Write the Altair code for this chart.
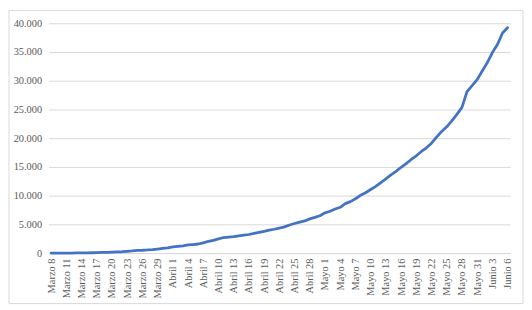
import altair as alt
import pandas as pd

# Cumulative values, one per day
marzo = [1, 3, 3, 9, 9, 16, 24, 45, 57, 75, 102, 128, 158, 196, 231, 306,
         378, 470, 491, 539, 608, 702, 798, 906]                     # Mar 8-31
abril = [1065, 1161, 1267, 1406, 1485, 1579, 1780, 2054, 2223, 2473, 2709,
         2776, 2852, 2979, 3105, 3233, 3439, 3621, 3792, 3977, 4149, 4356,
         4561, 4881, 5142, 5379, 5597, 5949, 6207, 6507]             # Apr 1-30
mayo = [7006, 7285, 7668, 7973, 8613, 8959, 9456, 10051, 10495, 11063,
        11613, 12272, 12930, 13610, 14216, 14939, 15574, 16295, 16935,
        17687, 18330, 19131, 20177, 21175, 21981, 23003, 24141, 25366,
        28100, 29150, 30200]                                         # May 1-31
junio = [31700, 33150, 34900, 36300, 38300, 39250]                   # Jun 1-6

months = [("Marzo", 8, marzo), ("Abril", 1, abril), ("Mayo", 1, mayo), ("Junio", 1, junio)]
cats, vals = [], []
for name, start, arr in months:
    for i, v in enumerate(arr):
        cats.append(f"{name} {start + i}")
        vals.append(v)

tick_labels = cats[::3]
y_ticks = [0, 5000, 10000, 15000, 20000, 25000, 30000, 35000, 40000]

df = pd.DataFrame({"fecha": cats, "casos": vals})

W, H = 466, 232
FONT = "Liberation Serif"
GRAY = "#595959"

line = alt.Chart(df).mark_line(color="#4472C4", strokeWidth=2.8, strokeCap="round", strokeJoin="round").encode(
    x=alt.X("fecha:O", sort=cats, title=None,
            scale=alt.Scale(type="point", padding=0.5),
            axis=alt.Axis(values=tick_labels, labelAngle=-90, labelFont=FONT, labelFontSize=10.5,
                          labelColor=GRAY, ticks=False, domainColor="#d9d9d9", domainWidth=1,
                          labelPadding=5, grid=False)),
    y=alt.Y("casos:Q", title=None,
            scale=alt.Scale(domain=[0, 40000], nice=False),
            axis=alt.Axis(values=y_ticks, labelFont=FONT, labelFontSize=10.5, labelColor=GRAY,
                          ticks=False, domain=False, gridColor="#d9d9d9", gridWidth=1,
                          labelPadding=7,
                          labelExpr="replace(format(datum.value, ',d'), ',', '.')")),
)

frame = alt.Chart(pd.DataFrame({"a": [0]})).mark_rect(filled=False, stroke="#d9d9d9", strokeWidth=1).encode(
    x=alt.value(-40), x2=alt.value(W + 13), y=alt.value(-13), y2=alt.value(H + 51)
)

chart = alt.layer(frame, line).properties(width=W, height=H, padding=0).configure_view(stroke=None)

chart.save("out.html", embed_options={"renderer": "svg", "actions": False})
